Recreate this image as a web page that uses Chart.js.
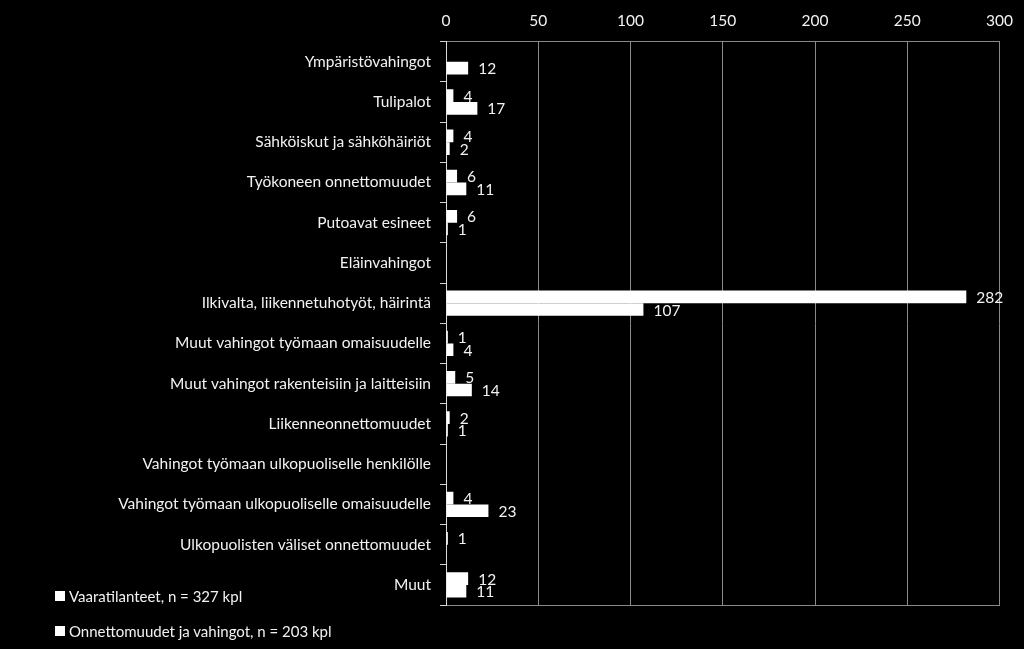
<!DOCTYPE html>
<html>
<head>
<meta charset="utf-8">
<script src="https://cdn.jsdelivr.net/npm/chart.js@4/dist/chart.umd.min.js"></script>
<style>
  html, body { margin: 0; padding: 0; background: #000; }
  #wrap { position: relative; width: 1024px; height: 649px; background: #000; }
  #legend { position: absolute; left: 55px; top: 578px; font-family: Lato, "Open Sans", sans-serif; font-size: 15px; color: #f2f2f2; }
  #legend .item { height: 35px; line-height: 22px; display: flex; align-items: center; }
  #legend .box { width: 10px; height: 10px; background: #fff; margin-right: 4px; display: inline-block; }
</style>
</head>
<body>
<div id="wrap">
  <canvas id="c" width="1024" height="649"></canvas>
  <div id="legend"></div>
</div>
<script>
const categories = [
  "Ympäristövahingot",
  "Tulipalot",
  "Sähköiskut ja sähköhäiriöt",
  "Työkoneen onnettomuudet",
  "Putoavat esineet",
  "Eläinvahingot",
  "Ilkivalta, liikennetuhotyöt, häirintä",
  "Muut vahingot työmaan omaisuudelle",
  "Muut vahingot rakenteisiin ja laitteisiin",
  "Liikenneonnettomuudet",
  "Vahingot työmaan ulkopuoliselle henkilölle",
  "Vahingot työmaan ulkopuoliselle omaisuudelle",
  "Ulkopuolisten väliset onnettomuudet",
  "Muut"
];
const seriesNames = ["Vaaratilanteet, n = 327 kpl", "Onnettomuudet ja vahingot, n = 203 kpl"];
const vaaratilanteet = [null, 4, 4, 6, 6, null, 282, 1, 5, 2, null, 4, 1, 12];
const onnettomuudet  = [12, 17, 2, 11, 1, null, 107, 4, 14, 1, null, 23, null, 11];
const xTicks = [0, 50, 100, 150, 200, 250, 300];

const FONT = 'Lato, "Open Sans", sans-serif';
const TEXT = '#f2f2f2';
const GRID = '#8a8a8a';

const valueLabels = {
  id: 'valueLabels',
  afterDatasetsDraw(chart) {
    const ctx = chart.ctx;
    ctx.save();
    ctx.font = '15.5px ' + FONT;
    ctx.fillStyle = TEXT;
    ctx.textAlign = 'left';
    ctx.textBaseline = 'middle';
    chart.data.datasets.forEach((ds, i) => {
      const meta = chart.getDatasetMeta(i);
      meta.data.forEach((el, j) => {
        const v = ds.data[j];
        if (v === null || v === undefined) return;
        ctx.fillText(String(v), el.x + 10, el.y + 1);
      });
    });
    ctx.restore();
  }
};

const chart = new Chart(document.getElementById('c'), {
  type: 'bar',
  data: {
    labels: categories,
    datasets: [
      { label: seriesNames[0], data: vaaratilanteet, backgroundColor: '#ffffff', borderWidth: 0 },
      { label: seriesNames[1], data: onnettomuudet, backgroundColor: '#ffffff', borderWidth: 0 }
    ]
  },
  options: {
    indexAxis: 'y',
    responsive: false,
    animation: false,
    devicePixelRatio: 1,
    layout: { padding: { left: 0, right: 18, top: 1, bottom: 44 } },
    datasets: { bar: { categoryPercentage: 0.63, barPercentage: 1.0 } },
    plugins: { legend: { display: false }, tooltip: { enabled: false } },
    scales: {
      x: {
        type: 'linear',
        position: 'top',
        min: 0, max: 300,
        afterBuildTicks: (s) => { s.ticks = xTicks.map(v => ({ value: v })); },
        ticks: { color: TEXT, font: { family: FONT, size: 15.5 }, padding: 11 },
        grid: { color: GRID, lineWidth: 1, drawTicks: false },
        border: { display: true, color: GRID, width: 1 }
      },
      x2: {
        type: 'linear',
        position: 'bottom',
        min: 0, max: 300,
        ticks: { display: false },
        grid: { display: false, drawTicks: false },
        border: { display: true, color: GRID, width: 1 }
      },
      y: {
        type: 'category',
        position: 'left',
        offset: true,
        ticks: { color: TEXT, font: { family: FONT, size: 15.5 }, padding: 9 },
        grid: { drawOnChartArea: false, offset: true, color: '#d0d0d0', tickLength: 6, lineWidth: 1 },
        border: { display: true, color: '#d9d9d9', width: 1 },
        afterFit: (s) => { s.width = 446; }
      }
    }
  },
  plugins: [valueLabels]
});

const legend = document.getElementById('legend');
seriesNames.forEach(name => {
  const d = document.createElement('div');
  d.className = 'item';
  const b = document.createElement('span');
  b.className = 'box';
  const t = document.createElement('span');
  t.textContent = name;
  d.appendChild(b); d.appendChild(t);
  legend.appendChild(d);
});
</script>
</body>
</html>
